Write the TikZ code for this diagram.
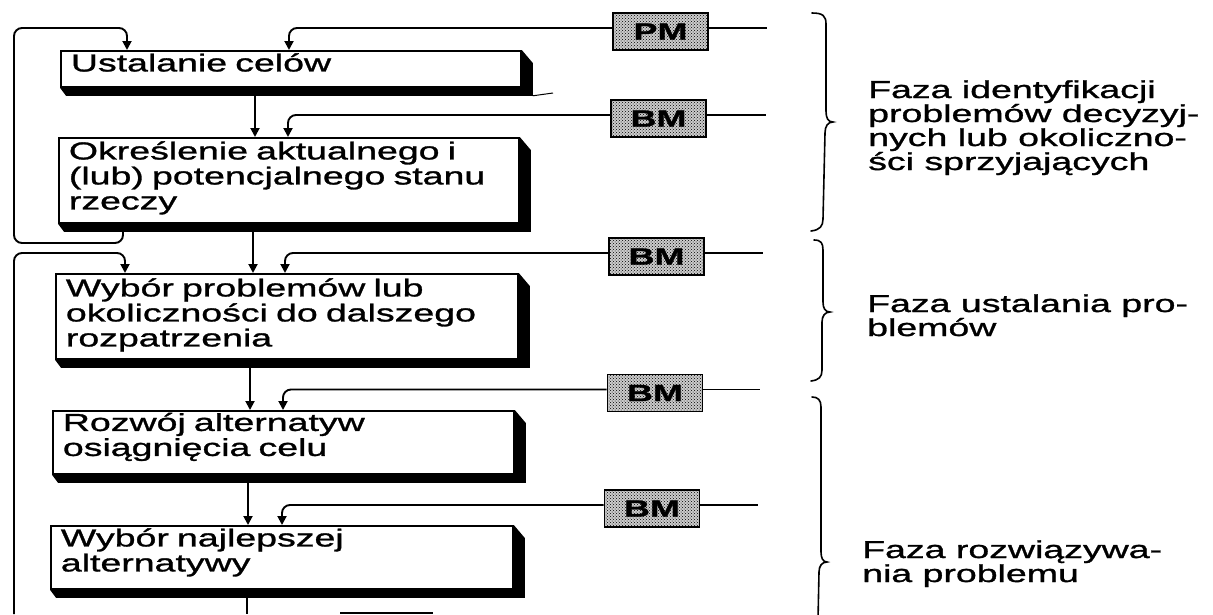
\documentclass[tikz,border=0pt]{standalone}
\usepackage{fontspec}
\setmainfont{Liberation Sans}[FakeStretch=1.53,FakeBold=1.2]
\usetikzlibrary{arrows.meta,patterns}
\newcommand\dropshade[1]{\fill (#1.north east) -- ++(11,13) -- ([xshift=11pt,yshift=-8pt]#1.south east) -- ([xshift=6pt,yshift=-8pt]#1.south west) -- (#1.south west) -- (#1.south east) -- cycle;}
\begin{document}
\begin{tikzpicture}[x=1pt,y=-1pt,
  bigtext/.style={font=\fontsize{24.5}{24}\selectfont},
  procbox/.style={draw, line width=1.8pt, fill=white, anchor=north west, align=left,
    inner xsep=10pt, inner ysep=0pt, font=\fontsize{24.5}{25}\selectfont},
  mbox/.style={draw, line width=1.8pt, preaction={fill=black!20}, pattern=crosshatch dots, pattern color=black,
    minimum width=95pt, minimum height=37pt, inner sep=0pt,
    font=\fontsize{23.5}{24}\selectfont\bfseries},
  arr/.style={line width=1.9pt, -{Triangle[length=9pt,width=9pt]}},
  conn/.style={line width=1.6pt},
  brace/.style={line width=1.6pt, line cap=round}]
\useasboundingbox (0,0) rectangle (1213,614);

% process boxes
\node[procbox, text width=440pt, minimum height=36pt, text depth=13pt] (b1) at (60,50) {Ustalanie celów};
\node[procbox, text width=440pt, minimum height=85pt, text depth=60pt] (b2) at (58,137) {Określenie aktualnego i\\(lub) potencjalnego stanu\\rzeczy};
\node[procbox, text width=442pt, minimum height=85pt, text depth=58pt] (b3) at (55,273) {Wybór problemów lub\\okoliczności do dalszego\\rozpatrzenia};
\node[procbox, text width=441pt, minimum height=63pt, text depth=41pt] (b4) at (52,410) {Rozwój alternatyw\\osiągnięcia celu};
\node[procbox, text width=442pt, minimum height=63pt, text depth=40pt] (b5) at (50,525) {Wybór najlepszej\\alternatywy};
\dropshade{b1}
\dropshade{b2}
\dropshade{b3}
\dropshade{b4}
\dropshade{b5}

% PM / BM boxes
\node[mbox] (pm) at (660.5,31.5) {PM};
\node[mbox] (bm2) at (658.5,118.5) {BM};
\node[mbox] (bm3) at (656.5,256.5) {BM};
\node[mbox] (bm4) at (655,393) {BM};
\node[mbox] (bm5) at (652,508.5) {BM};

\coordinate (r1) at (767,28);
\coordinate (r2) at (766,115);
\coordinate (r3) at (763,253);
\coordinate (r4) at (760,389.5);
\coordinate (r5) at (758,505);
\draw[conn] ([yshift=3.5pt]pm.east) -- (r1);
\draw[conn] ([yshift=3.5pt]bm2.east) -- (r2);
\draw[conn] ([yshift=3.5pt]bm3.east) -- (r3);
\draw[conn] ([yshift=3.5pt]bm4.east) -- (r4);
\draw[conn] ([yshift=3.5pt]bm5.east) -- (r5);

% inputs from PM / BM
\draw[arr, rounded corners=8pt] ([yshift=3.5pt]pm.west) -| ([xshift=229pt]b1.north west);
\draw[arr, rounded corners=8pt] ([yshift=3.5pt]bm2.west) -| ([xshift=230pt]b2.north west);
\draw[arr, rounded corners=8pt] ([yshift=3.5pt]bm3.west) -| ([xshift=230pt]b3.north west);
\draw[arr, rounded corners=8pt] ([yshift=3.5pt]bm4.west) -| ([xshift=231pt]b4.north west);
\draw[arr, rounded corners=8pt] ([yshift=3.5pt]bm5.west) -| ([xshift=232pt]b5.north west);

% main flow
\draw[arr] ([xshift=195pt]b1.south west) -- ([xshift=195pt]b1.south west |- b2.north);
\draw[arr] ([xshift=195pt]b2.south west) -- ([xshift=195pt]b2.south west |- b3.north);
\draw[arr] ([xshift=195pt]b3.south west) -- ([xshift=195pt]b3.south west |- b4.north);
\draw[arr] ([xshift=196pt]b4.south west) -- ([xshift=196pt]b4.south west |- b5.north);
\coordinate (bot) at (247,614);
\draw[conn] ([xshift=197pt]b5.south west) -- (bot);
\coordinate (nb1) at (340,613);
\coordinate (nb2) at (433,613);
\draw[line width=2.5pt] (nb1) -- (nb2);

% small stub right of box 1
\coordinate (stub) at (553,93);
\draw[line width=1pt] ([xshift=11pt,yshift=-8pt]b1.south east) -- (stub);

% feedback loops
\coordinate (L1b) at (14,243);
\coordinate (L1t) at (14,28);
\draw[arr, rounded corners=8pt] ([xshift=65pt]b2.south west) |- (L1b) -- (L1t) -| ([xshift=67pt]b1.north west);
\coordinate (L2b) at (14,614);
\coordinate (L2t) at (14,253);
\draw[arr, rounded corners=8pt] (L2b) -- (L2t) -| ([xshift=70pt]b3.north west);

% braces
\draw[brace] (812,13) .. controls (823,13) and (826,16) .. (826,24) -- (826,111)
  .. controls (826,118) and (828,122) .. (833,122)
  .. controls (828,122) and (825,126) .. (825,133) -- (823,219)
  .. controls (823,226) and (820,230) .. (811,231);
\draw[brace] (814,240) .. controls (821,240) and (823,243) .. (823,250) -- (823,302)
  .. controls (823,308) and (825,312) .. (830,312)
  .. controls (825,312) and (822,316) .. (822,322) -- (822,370)
  .. controls (822,377) and (819,380) .. (811,381);
\draw[brace] (812,397) .. controls (818,397) and (821,400) .. (821,407) -- (821,552)
  .. controls (821,558) and (823,562) .. (827,562)
  .. controls (822,562) and (819,566) .. (819,572) -- (818,620);

% phase labels (base anchor = last line)
\node[bigtext, anchor=base west, align=left, inner sep=0pt] (t1) at (868,170)
  {Faza identyfikacji\\problemów decyzyj-\\nych lub okoliczno-\\ści sprzyjających};
\node[bigtext, anchor=base west, align=left, inner sep=0pt] (t2) at (867,336)
  {Faza ustalania pro-\\blemów};
\node[bigtext, anchor=base west, align=left, inner sep=0pt] (t3) at (862,582)
  {Faza rozwiązywa-\\nia problemu};
\end{tikzpicture}
\end{document}
